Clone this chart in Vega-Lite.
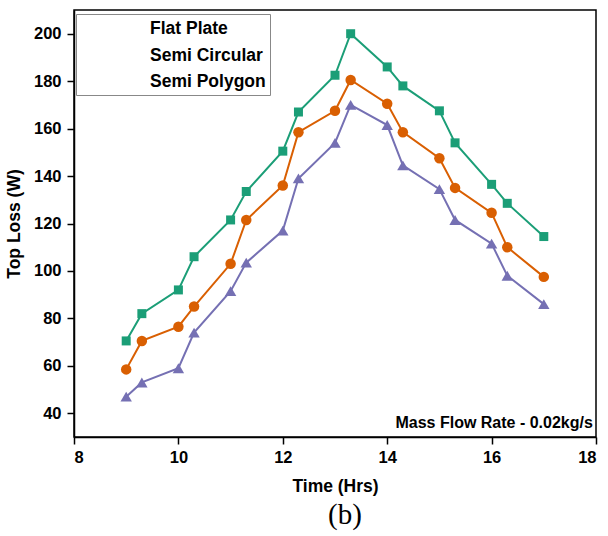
{
  "$schema": "https://vega.github.io/schema/vega-lite/v6.json",
  "width": 522,
  "height": 427,
  "autosize": "none",
  "padding": {"left": 74, "top": 10, "right": 12, "bottom": 99},
  "background": "white",
  "title": {"text": "(b)", "orient": "bottom", "font": "Liberation Serif", "fontSize": 29, "fontWeight": "normal", "color": "#000", "offset": 6, "dx": 10},
  "config": {
    "view": {"stroke": "#000", "strokeWidth": 1.5},
    "axis": {"labelFont": "Liberation Sans", "labelFontWeight": "bold", "labelFontSize": 16.5, "labelColor": "#000", "titleFont": "Liberation Sans", "titleFontWeight": "bold", "titleFontSize": 17.5, "titleColor": "#000", "domainColor": "#000", "domainWidth": 1.5, "tickColor": "#000", "tickWidth": 1.5, "tickSize": 7, "grid": false}
  },
  "layer": [
    {
      "data": {"values": [
        {"t": 9, "v": 70.5, "s": "Flat Plate"},
        {"t": 9.3, "v": 82, "s": "Flat Plate"},
        {"t": 10, "v": 92, "s": "Flat Plate"},
        {"t": 10.3, "v": 106, "s": "Flat Plate"},
        {"t": 11, "v": 121.5, "s": "Flat Plate"},
        {"t": 11.3, "v": 133.5, "s": "Flat Plate"},
        {"t": 12, "v": 150.5, "s": "Flat Plate"},
        {"t": 12.3, "v": 167, "s": "Flat Plate"},
        {"t": 13, "v": 182.5, "s": "Flat Plate"},
        {"t": 13.3, "v": 200, "s": "Flat Plate"},
        {"t": 14, "v": 186, "s": "Flat Plate"},
        {"t": 14.3, "v": 178, "s": "Flat Plate"},
        {"t": 15, "v": 167.5, "s": "Flat Plate"},
        {"t": 15.3, "v": 154, "s": "Flat Plate"},
        {"t": 16, "v": 136.5, "s": "Flat Plate"},
        {"t": 16.3, "v": 128.5, "s": "Flat Plate"},
        {"t": 17, "v": 114.5, "s": "Flat Plate"},
        {"t": 9, "v": 58.5, "s": "Semi Circular"},
        {"t": 9.3, "v": 70.5, "s": "Semi Circular"},
        {"t": 10, "v": 76.5, "s": "Semi Circular"},
        {"t": 10.3, "v": 85, "s": "Semi Circular"},
        {"t": 11, "v": 103, "s": "Semi Circular"},
        {"t": 11.3, "v": 121.5, "s": "Semi Circular"},
        {"t": 12, "v": 136, "s": "Semi Circular"},
        {"t": 12.3, "v": 158.5, "s": "Semi Circular"},
        {"t": 13, "v": 167.5, "s": "Semi Circular"},
        {"t": 13.3, "v": 180.5, "s": "Semi Circular"},
        {"t": 14, "v": 170.5, "s": "Semi Circular"},
        {"t": 14.3, "v": 158.5, "s": "Semi Circular"},
        {"t": 15, "v": 147.5, "s": "Semi Circular"},
        {"t": 15.3, "v": 135, "s": "Semi Circular"},
        {"t": 16, "v": 124.5, "s": "Semi Circular"},
        {"t": 16.3, "v": 110, "s": "Semi Circular"},
        {"t": 17, "v": 97.5, "s": "Semi Circular"},
        {"t": 9, "v": 47, "s": "Semi Polygon"},
        {"t": 9.3, "v": 53, "s": "Semi Polygon"},
        {"t": 10, "v": 59, "s": "Semi Polygon"},
        {"t": 10.3, "v": 74, "s": "Semi Polygon"},
        {"t": 11, "v": 91.5, "s": "Semi Polygon"},
        {"t": 11.3, "v": 103.5, "s": "Semi Polygon"},
        {"t": 12, "v": 117, "s": "Semi Polygon"},
        {"t": 12.3, "v": 139, "s": "Semi Polygon"},
        {"t": 13, "v": 154, "s": "Semi Polygon"},
        {"t": 13.3, "v": 170, "s": "Semi Polygon"},
        {"t": 14, "v": 161.5, "s": "Semi Polygon"},
        {"t": 14.3, "v": 144.5, "s": "Semi Polygon"},
        {"t": 15, "v": 134.5, "s": "Semi Polygon"},
        {"t": 15.3, "v": 121.5, "s": "Semi Polygon"},
        {"t": 16, "v": 111.5, "s": "Semi Polygon"},
        {"t": 16.3, "v": 98, "s": "Semi Polygon"},
        {"t": 17, "v": 86, "s": "Semi Polygon"}
      ]},
      "encoding": {
        "x": {"field": "t", "type": "quantitative", "title": "Time (Hrs)", "scale": {"domain": [8, 18], "nice": false}, "axis": {"values": [8, 10, 12, 14, 16, 18], "labelPadding": 5, "titlePadding": 12}},
        "y": {"field": "v", "type": "quantitative", "title": "Top Loss (W)", "scale": {"domain": [30, 210], "nice": false, "zero": false}, "axis": {"values": [40, 60, 80, 100, 120, 140, 160, 180, 200], "labelPadding": 6, "titlePadding": 10}}
      },
      "layer": [
        {"transform": [{"filter": "datum.s == 'Flat Plate'"}], "mark": {"type": "line", "strokeWidth": 2, "color": "#1b9e77"}},
        {"transform": [{"filter": "datum.s == 'Semi Circular'"}], "mark": {"type": "line", "strokeWidth": 2, "color": "#d95f02"}},
        {"transform": [{"filter": "datum.s == 'Semi Polygon'"}], "mark": {"type": "line", "strokeWidth": 2, "color": "#7570b3"}},
        {"transform": [{"filter": "datum.s == 'Flat Plate'"}], "mark": {"type": "point", "filled": true, "opacity": 1, "size": 81, "shape": "square", "color": "#1b9e77"}},
        {"transform": [{"filter": "datum.s == 'Semi Circular'"}], "mark": {"type": "point", "filled": true, "opacity": 1, "size": 110, "shape": "circle", "color": "#d95f02"}},
        {"transform": [{"filter": "datum.s == 'Semi Polygon'"}], "mark": {"type": "point", "filled": true, "opacity": 1, "size": 130, "shape": "triangle-up", "color": "#7570b3"}},
        {"mark": {"type": "point", "filled": true, "opacity": 0, "size": 100},
         "encoding": {
           "color": {"field": "s", "type": "nominal", "scale": {"domain": ["Flat Plate", "Semi Circular", "Semi Polygon"], "range": ["#1b9e77", "#d95f02", "#7570b3"]},
             "legend": {"title": null, "orient": "none", "legendX": 2, "legendY": 4, "padding": 4, "strokeColor": "#888", "fillColor": "white", "labelFont": "Liberation Sans", "labelFontSize": 17.5, "labelFontWeight": "bold", "labelColor": "#000", "symbolSize": 400, "symbolOffset": 15, "symbolOpacity": 1, "labelOffset": 33, "rowPadding": 6.5}},
           "shape": {"field": "s", "type": "nominal", "scale": {"domain": ["Flat Plate", "Semi Circular", "Semi Polygon"], "range": [
             "M-2.5,-0.1L2.5,-0.1L2.5,0.1L-2.5,0.1ZM-0.43,-0.43L0.43,-0.43L0.43,0.43L-0.43,0.43Z",
             "M-2.5,-0.1L2.5,-0.1L2.5,0.1L-2.5,0.1ZM-0.5,0A0.5,0.5,0,1,1,0.5,0A0.5,0.5,0,1,1,-0.5,0Z",
             "M-2.5,-0.1L2.5,-0.1L2.5,0.1L-2.5,0.1ZM0,-0.68L0.66,0.43L-0.66,0.43Z"]}}
         }}
      ]
    },
    {
      "data": {"values": [{"label": "Mass Flow Rate - 0.02kg/s"}]},
      "mark": {"type": "text", "align": "right", "baseline": "middle", "font": "Liberation Sans", "fontWeight": "bold", "fontSize": 16, "fill": "#000"},
      "encoding": {"x": {"datum": 17.94}, "y": {"datum": 35.8}, "text": {"field": "label"}}
    }
  ]
}
